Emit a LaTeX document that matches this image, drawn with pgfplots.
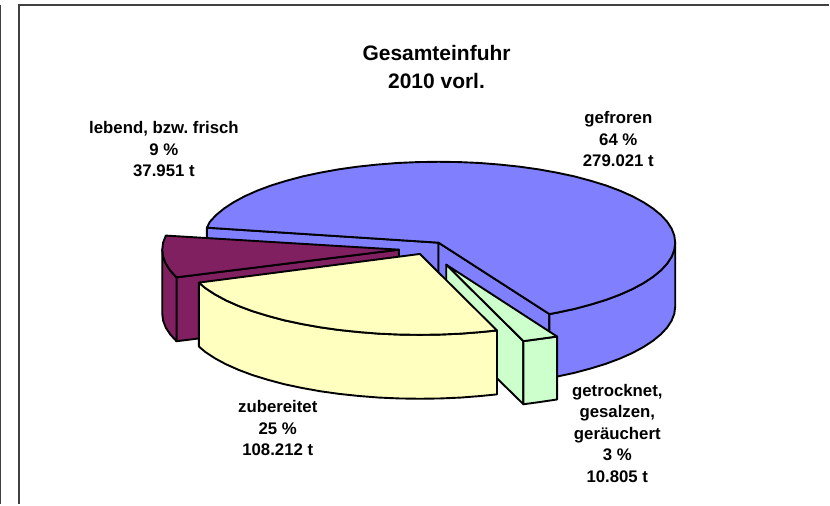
\documentclass[border=0pt]{standalone}
\usepackage{pgfplots}
\pgfplotsset{compat=1.18}
\usepackage{fontspec}
\setmainfont{Liberation Sans}
\frenchspacing

\definecolor{pieblue}{HTML}{8080FF}
\definecolor{piemaroon}{HTML}{802060}
\definecolor{pieyellow}{HTML}{FFFFC0}
\definecolor{piegreen}{HTML}{CCFFCC}
\definecolor{framegray}{HTML}{404040}

\tikzset{
  slice/.style={draw=black, line width=1.9bp, line join=round},
  lab/.style={font=\fontsize{16.8bp}{21.6bp}\selectfont\bfseries, align=center, inner sep=0pt},
}

\begin{document}
\begin{tikzpicture}
\begin{axis}[
  width=830bp, height=505bp, scale only axis,
  xmin=0, xmax=830, ymin=0, ymax=505,
  y dir=reverse,
  hide axis, clip=false,
]
% keeps the page at the full picture size
\addplot[draw=none] coordinates {(0,0) (830,0) (830,505) (0,505)};
% frame
\addplot[draw=framegray, line width=2bp] coordinates {(18.5,505) (18.5,5.5) (830,5.5)};
\addplot[draw=framegray, line width=1.5bp] coordinates {(0.6,5) (0.6,505)};

% gefroren 64 %
\addplot[slice, fill=pieblue] coordinates {(207,228) (439,243) (439,307) (207,292)} --cycle;
\addplot[slice, fill=pieblue] coordinates {(439,243) (550,314.5) (550,378.5) (439,307)} --cycle;
\addplot[slice, fill=pieblue] coordinates {
  (676,243) (676,307) (675.1,314.1) (672.4,321.1) (667.9,328) (661.7,334.7) (653.8,341.2)
  (644.2,347.5) (633.1,353.5) (620.5,359.1) (606.6,364.3) (591.3,369) (574.9,373.4)
  (557.5,377.1) (550,378.5) (550,314.5) (557.5,313.1) (574.9,309.4) (591.3,305) (606.6,300.3)
  (620.5,295.1) (633.1,289.5) (644.2,283.5) (653.8,277.2) (661.7,270.7) (667.9,264)
  (672.4,257.1) (675.1,250.1)} --cycle;
\addplot[slice, fill=pieblue] coordinates {
  (439,243) (550,314.5) (557.5,313.1) (574.9,309.4) (591.3,305) (606.6,300.3) (620.5,295.1)
  (633.1,289.5) (644.2,283.5) (653.8,277.2) (661.7,270.7) (667.9,264) (672.4,257.1)
  (675.1,250.1) (676,243) (675.1,235.9) (672.4,228.9) (667.9,222) (661.7,215.3) (653.8,208.8)
  (644.2,202.5) (633.1,196.5) (620.5,190.9) (606.6,185.7) (591.3,181) (574.9,176.6)
  (557.5,172.9) (539.2,169.6) (520.1,166.9) (500.3,164.8) (480.1,163.2) (459.7,162.3)
  (439,162) (418.3,162.3) (397.9,163.2) (377.7,164.8) (357.9,166.9) (338.8,169.6)
  (320.5,172.9) (303.1,176.6) (286.7,181) (271.4,185.7) (257.5,190.9) (244.9,196.5)
  (233.8,202.5) (224.2,208.8) (216.3,215.3) (210.1,222) (207,228)} --cycle;

% lebend, bzw. frisch 9 %
\addplot[slice, fill=piemaroon] coordinates {(176.6,277.7) (399.3,250) (399.3,314) (176.6,341.7)} --cycle;
\addplot[slice, fill=piemaroon] coordinates {
  (162.3,250) (162.3,314) (163.2,321.1) (165.9,328.1) (170.4,335) (176.6,341.7)
  (176.6,277.7) (170.4,271) (165.9,264.1) (163.2,257.1)} --cycle;
\addplot[slice, fill=piemaroon] coordinates {
  (399.3,250) (176.6,277.7) (170.4,271) (165.9,264.1) (163.2,257.1) (162.3,250)
  (163.2,242.9) (165.9,235.9)} --cycle;

% getrocknet, gesalzen, geraeuchert 3 %
\addplot[slice, fill=piegreen] coordinates {(446.7,265) (524,341.6) (524,404.8) (446.7,329)} --cycle;
\addplot[slice, fill=piegreen] coordinates {
  (524,341.6) (541,339.3) (557.7,337) (557.7,400) (541,402.5) (524,404.8)} --cycle;
\addplot[slice, fill=piegreen] coordinates {(446.7,265) (557.7,337) (541,339.3) (524,341.6)} --cycle;

% zubereitet 25 %
\addplot[slice, fill=pieyellow] coordinates {
  (497.5,330.9) (481.6,332.5) (461.4,334.1) (441,335) (420.3,335.3) (399.6,335) (379.2,334.1)
  (359,332.5) (339.2,330.4) (320.1,327.7) (301.8,324.4) (284.4,320.7) (268,316.3)
  (252.7,311.6) (238.8,306.4) (226.2,300.8) (215.1,294.8) (205.5,288.5) (199,283)
  (199,347) (205.5,352.5) (215.1,358.8) (226.2,364.8) (238.8,370.4) (252.7,375.6)
  (268,380.3) (284.4,384.7) (301.8,388.4) (320.1,391.7) (339.2,394.4) (359,396.5)
  (379.2,398.1) (399.6,399) (420.3,399.3) (441,399) (461.4,398.1) (481.6,396.5) (497.5,394.9)} --cycle;
\addplot[slice, fill=pieyellow] coordinates {
  (420.3,254.3) (497.5,330.9) (481.6,332.5) (461.4,334.1) (441,335) (420.3,335.3) (399.6,335)
  (379.2,334.1) (359,332.5) (339.2,330.4) (320.1,327.7) (301.8,324.4) (284.4,320.7)
  (268,316.3) (252.7,311.6) (238.8,306.4) (226.2,300.8) (215.1,294.8) (205.5,288.5) (199,283)} --cycle;

% texts
\node[lab, font=\fontsize{21bp}{27.5bp}\selectfont\bfseries] at (axis cs:437,67) {Gesamteinfuhr\\2010 vorl.};
\node[lab] at (axis cs:619,139.5) {gefroren\\64 \%\\279.021 t};
\node[lab] at (axis cs:164,149.5) {lebend, bzw. frisch\\9 \%\\37.951 t};
\node[lab] at (axis cs:278,429) {zubereitet\\25 \%\\108.212 t};
\node[lab] at (axis cs:618,434) {getrocknet,\\gesalzen,\\geräuchert\\3 \%\\10.805 t};
\end{axis}
\end{tikzpicture}
\end{document}
